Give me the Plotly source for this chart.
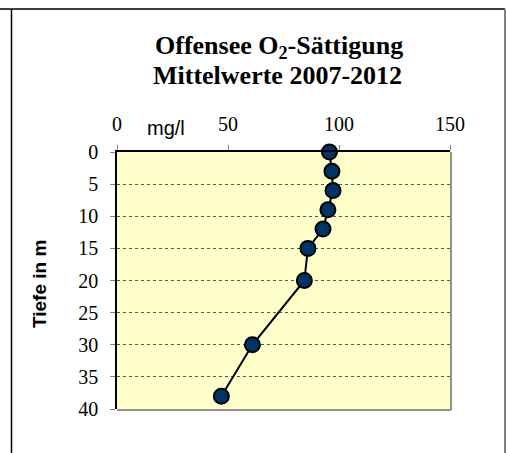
import plotly.graph_objects as go

# Mean O2 saturation profile, Offensee 2007-2012
depth_m = [0, 3, 6, 9, 12, 15, 20, 30, 38]
o2_value = [95.7, 96.8, 97.3, 95.0, 92.8, 86.0, 84.4, 61.0, 47.0]
x_ticks = [0, 50, 100, 150]
y_ticks = [0, 5, 10, 15, 20, 25, 30, 35, 40]

W, H = 507, 453
L, R, T, B = 117, 57, 152, 44
pw, ph = W - L - R, H - T - B


def px_x(px):
    return (px - L) / pw


def px_y(py):
    return (H - B - py) / ph


SERIF = "Liberation Serif"
SANS = "Liberation Sans"

fig = go.Figure()
fig.add_trace(go.Scatter(
    x=o2_value, y=depth_m, mode="lines+markers",
    line=dict(color="black", width=2),
    marker=dict(size=15, color="#003366", line=dict(color="black", width=2)),
    showlegend=False, cliponaxis=False,
))

fig.update_layout(
    width=W, height=H,
    margin=dict(l=L, r=R, t=T, b=B),
    paper_bgcolor="white",
    plot_bgcolor="#FFFFCC",
    font=dict(family=SERIF, size=20, color="black"),
)

fig.update_xaxes(
    range=[0, 150], side="top", tickvals=x_ticks,
    showgrid=False, zeroline=False,
    showline=True, linecolor="black", linewidth=1.5,
    ticks="outside", ticklen=5, tickcolor="#808080", tickwidth=1,
    tickfont=dict(family=SERIF, size=20, color="black"),
    ticklabelstandoff=6,
)
fig.update_yaxes(
    range=[40, 0], tickvals=y_ticks,
    showgrid=True, gridcolor="#555555", gridwidth=1, griddash="dot",
    zeroline=False,
    showline=True, linecolor="black", linewidth=1.5,
    ticks="outside", ticklen=5, tickcolor="#808080", tickwidth=1,
    tickfont=dict(family=SERIF, size=20, color="black"),
    ticklabelstandoff=8,
)

# title lines, unit label and depth axis title
texts = [
    dict(text="<b>Offensee O<sub>2</sub>-Sättigung</b>", x=279, y=47,
         font=dict(family=SERIF, size=26, color="black"), angle=0),
    dict(text="<b>Mittelwerte 2007-2012</b>", x=277, y=76,
         font=dict(family=SERIF, size=26, color="black"), angle=0),
    dict(text="mg/l", x=166, y=128,
         font=dict(family=SANS, size=20, color="black"), angle=0),
    dict(text="<b>Tiefe in m</b>", x=39, y=284,
         font=dict(family=SANS, size=19, color="black"), angle=-90),
]
for t in texts:
    fig.add_annotation(
        text=t["text"], xref="paper", yref="paper",
        x=px_x(t["x"]), y=px_y(t["y"]), xanchor="center", yanchor="middle",
        showarrow=False, font=t["font"], textangle=t["angle"],
    )

shapes = [
    # plot-area shadow on right and bottom
    dict(type="line", xref="paper", yref="paper", x0=1.003, x1=1.003, y0=px_y(152), y1=px_y(410),
         line=dict(color="#909090", width=2)),
    dict(type="line", xref="paper", yref="paper", x0=0, x1=1.003, y0=px_y(410), y1=px_y(410),
         line=dict(color="#909090", width=2)),
    # frame around the chart
    dict(type="line", xref="paper", yref="paper", x0=px_x(0), x1=px_x(505), y0=px_y(9), y1=px_y(9),
         line=dict(color="black", width=1.5)),
    dict(type="line", xref="paper", yref="paper", x0=px_x(11.5), x1=px_x(11.5), y0=px_y(9), y1=px_y(453),
         line=dict(color="black", width=1.5)),
    dict(type="line", xref="paper", yref="paper", x0=px_x(505), x1=px_x(505), y0=px_y(9), y1=px_y(453),
         line=dict(color="#808080", width=2)),
]
fig.update_layout(shapes=shapes)

fig.write_html("out.html")
